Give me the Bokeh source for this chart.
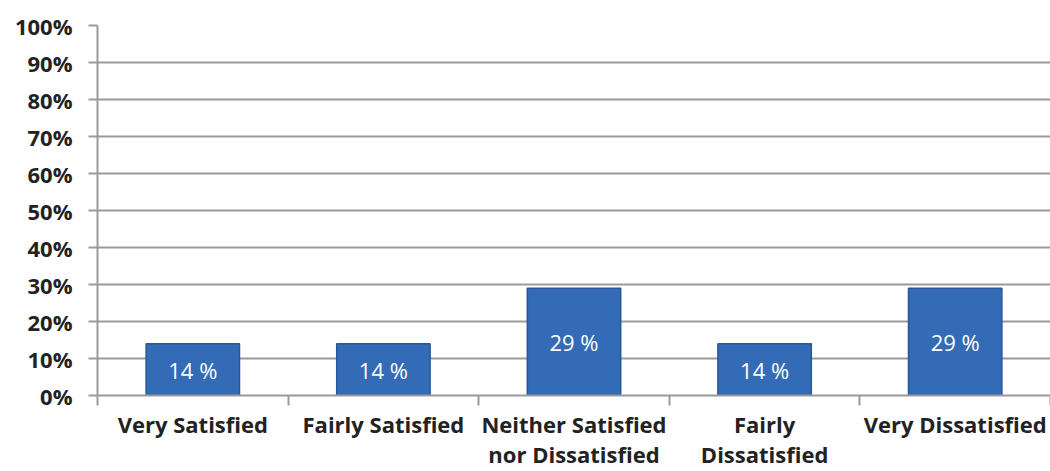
from bokeh.plotting import figure
from bokeh.models import FixedTicker, ColumnDataSource, Range1d
from bokeh.embed import file_html
from bokeh.resources import INLINE
from bokeh.core.properties import value

categories = ["Very Satisfied", "Fairly Satisfied", "Neither Satisfied\nnor Dissatisfied",
              "Fairly\nDissatisfied", "Very Dissatisfied"]
values = [14, 14, 29, 14, 29]
bar_labels = ["14 %", "14 %", "29 %", "14 %", "29 %"]
y_ticks = [0, 10, 20, 30, 40, 50, 60, 70, 80, 90, 100]
y_tick_labels = ["0%", "10%", "20%", "30%", "40%", "50%", "60%", "70%", "80%", "90%", "100%"]

n = len(categories)
centers = [i + 0.5 for i in range(n)]
src = ColumnDataSource(dict(x=centers, top=values, label=bar_labels,
                            ymid=[v / 2 for v in values]))

FONT = "Open Sans"
GRID = "#9a9a9a"

p = figure(width=1050, height=471, output_backend="svg", toolbar_location=None,
           x_range=Range1d(0, n), y_range=Range1d(0, 100),
           min_border_left=97, min_border_right=0, min_border_top=25, min_border_bottom=73)
p.outline_line_color = None
p.background_fill_color = "white"

p.vbar(x="x", top="top", bottom=0, width=0.49, source=src,
       fill_color="#336bb6", line_color="#27579a", line_width=1.5)
p.text(x="x", y="ymid", text="label", source=src, text_color="white",
       text_font=value(FONT), text_font_size="22px", text_align="center",
       text_baseline="middle")

# y axis
p.yaxis.ticker = FixedTicker(ticks=y_ticks)
p.yaxis.major_label_overrides = {t: l for t, l in zip(y_ticks, y_tick_labels)}
p.yaxis.major_label_text_font = FONT
p.yaxis.major_label_text_font_style = "bold"
p.yaxis.major_label_text_font_size = "22px"
p.yaxis.major_label_text_color = "#222222"
p.yaxis.major_label_standoff = 16
p.yaxis.axis_line_color = GRID
p.yaxis.axis_line_width = 2
p.yaxis.major_tick_line_color = GRID
p.yaxis.major_tick_line_width = 2
p.yaxis.major_tick_out = 9
p.yaxis.major_tick_in = 0
p.yaxis.minor_tick_line_color = None

# x axis: labels at centers, ticks at boundaries
p.xaxis.ticker = FixedTicker(ticks=centers, minor_ticks=list(range(n + 1)))
p.xaxis.major_label_overrides = {c: l for c, l in zip(centers, categories)}
p.xaxis.major_label_text_font = FONT
p.xaxis.major_label_text_font_style = "bold"
p.xaxis.major_label_text_font_size = "22px"
p.xaxis.major_label_text_color = "#222222"
p.xaxis.major_label_text_line_height = 1.0
p.xaxis.major_label_standoff = 3
p.xaxis.major_tick_line_color = None
p.xaxis.minor_tick_line_color = GRID
p.xaxis.minor_tick_line_width = 2
p.xaxis.minor_tick_out = 10
p.xaxis.minor_tick_in = 0
p.xaxis.axis_line_color = GRID
p.xaxis.axis_line_width = 2

p.xgrid.grid_line_color = None
p.ygrid.grid_line_color = GRID
p.ygrid.grid_line_width = 2
p.ygrid.level = "underlay"

open("out.html", "w").write(file_html(p, INLINE))
